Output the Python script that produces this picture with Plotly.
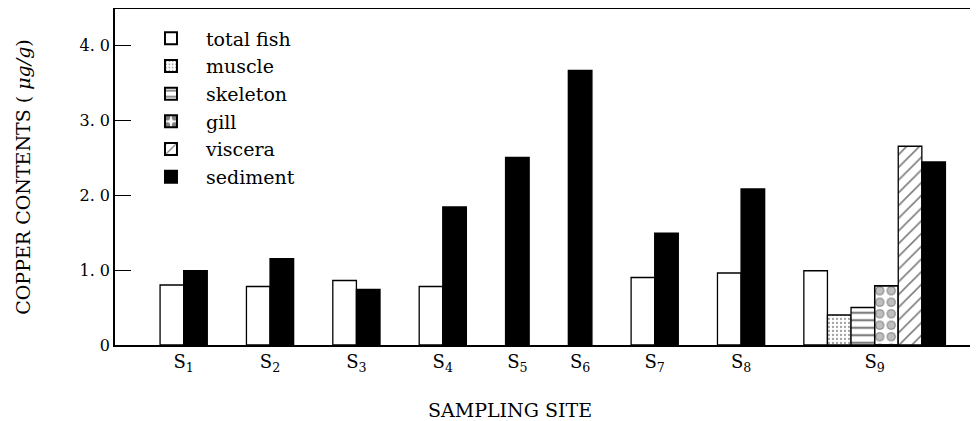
import plotly.graph_objects as go

# ---- data ----
site_labels = ["S<sub>1</sub>", "S<sub>2</sub>", "S<sub>3</sub>", "S<sub>4</sub>", "S<sub>5</sub>",
               "S<sub>6</sub>", "S<sub>7</sub>", "S<sub>8</sub>", "S<sub>9</sub>"]
total_fish = [0.80, 0.78, 0.86, 0.78, None, None, 0.90, 0.96, 0.99]
muscle = [None, None, None, None, None, None, None, None, 0.40]
skeleton = [None, None, None, None, None, None, None, None, 0.50]
gill = [None, None, None, None, None, None, None, None, 0.79]
viscera = [None, None, None, None, None, None, None, None, 2.65]
sediment = [0.99, 1.15, 0.74, 1.84, 2.50, 3.66, 1.49, 2.08, 2.44]
y_tick_vals = [0, 1, 2, 3, 4]
y_tick_text = ["0", "1. 0", "2. 0", "3. 0", "4. 0"]

series = [
    ("total fish", total_fish),
    ("muscle", muscle),
    ("skeleton", skeleton),
    ("gill", gill),
    ("viscera", viscera),
    ("sediment", sediment),
]

# ---- layout of bar slots (bars of one site sit side by side) ----
LEFT_PAD = 1.91
GAP = 1.66
X_MAX = 36.57
n_sites = len(site_labels)
positions = {name: [None] * n_sites for name, _ in series}
centers = []
cursor = LEFT_PAD
for i in range(n_sites):
    start = cursor
    for name, vals in series:
        if vals[i] is not None:
            positions[name][i] = cursor + 0.5
            cursor += 1
    centers.append((start + cursor) / 2)
    cursor += GAP

FONT = "DejaVu Serif"
LINE = dict(color="black", width=1.3)

styles = {
    "total fish": dict(color="white", line=LINE),
    "muscle": dict(color="white", line=LINE,
                   pattern=dict(shape=".", fgcolor="#444", bgcolor="white", size=4, solidity=0.25)),
    "skeleton": dict(color="white", line=LINE,
                     pattern=dict(shape="-", fgcolor="black", bgcolor="white", size=7.5, solidity=0.3)),
    "gill": dict(color="white", line=LINE,
                 pattern=dict(shape=".", fgcolor="black", bgcolor="white", size=11.5, solidity=0.5)),
    "viscera": dict(color="white", line=LINE,
                    pattern=dict(shape="/", fgcolor="black", bgcolor="white", size=9, solidity=0.18)),
    "sediment": dict(color="black", line=LINE),
}

fig = go.Figure()
for name, vals in series:
    xs = [positions[name][i] for i in range(n_sites) if vals[i] is not None]
    ys = [v for v in vals if v is not None]
    fig.add_trace(go.Bar(x=xs, y=ys, width=1, name=name, marker=styles[name],
                         legendgroup=name))
    if name == "gill":
        # white inner dots turn the black dots into rings
        fig.add_trace(go.Bar(x=xs, y=ys, width=1, name=name, showlegend=False,
                             legendgroup=name,
                             marker=dict(color="rgba(0,0,0,0)", line=LINE,
                                         pattern=dict(shape=".", fgcolor="white",
                                                      bgcolor="rgba(0,0,0,0)",
                                                      size=11.5, solidity=0.3,
                                                      fillmode="overlay"))))

# The page places the figure 8 px in from the top-left corner.
fig.update_layout(
    width=970, height=413,
    margin=dict(l=107, r=0, t=1, b=76),
    paper_bgcolor="white", plot_bgcolor="white",
    barmode="overlay",
    font=dict(family=FONT, color="black", size=16),
    showlegend=True,
    legend=dict(x=0.0243, y=0.969, xanchor="left", yanchor="top",
                bgcolor="rgba(0,0,0,0)", font=dict(family=FONT, size=19),
                tracegroupgap=0, itemwidth=60, itemsizing="constant"),
    xaxis=dict(range=[0, X_MAX], showline=True, linecolor="black", linewidth=1.5,
               mirror=True, ticks="", tickvals=centers, ticktext=site_labels,
               tickfont=dict(size=18), showgrid=False, zeroline=False, fixedrange=True),
    yaxis=dict(range=[0, 4.48], showline=True, linecolor="black", linewidth=1.5,
               ticks="inside", ticklen=16, tickwidth=1.3, tickcolor="black",
               tickvals=y_tick_vals, ticktext=y_tick_text, tickfont=dict(size=16),
               showgrid=False, zeroline=False,
               title=dict(text="COPPER CONTENTS ( <i>μg/g</i>)", font=dict(size=19), standoff=44)),
    annotations=[dict(text="SAMPLING SITE", xref="paper", yref="paper",
                      x=0.458, y=-0.193, xanchor="center", yanchor="middle",
                      showarrow=False, font=dict(size=19))],
)

fig.write_html("out.html")
